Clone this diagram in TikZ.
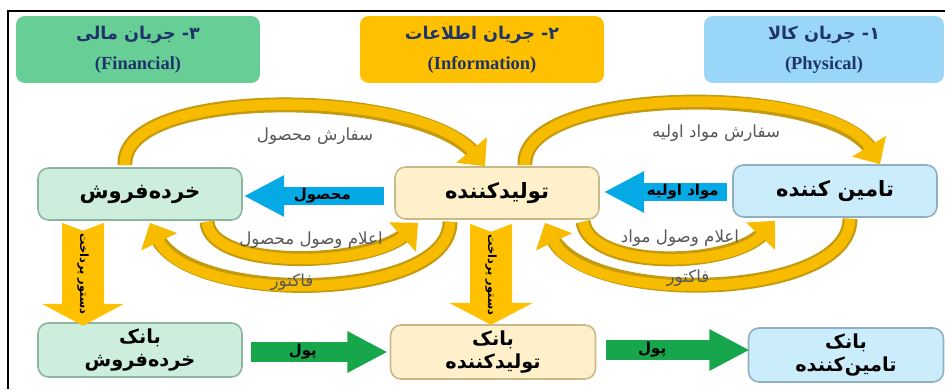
\documentclass[tikz,border=0pt]{standalone}
\usepackage{fontspec}
\usetikzlibrary{arrows.meta, calc, positioning}
\TeXXeTstate=1
\newfontfamily\fafont[Script=Arabic]{DejaVu Sans}
\newfontfamily\enfont{Liberation Serif}
\newcommand{\fatext}[1]{{\fafont\beginR #1\endR}}
\definecolor{finfill}{HTML}{67CF95}
\definecolor{infofill}{HTML}{FFC000}
\definecolor{phyfill}{HTML}{99D6F8}
\definecolor{headtext}{HTML}{1F3468}
\definecolor{retfill}{HTML}{CDEEDD}
\definecolor{retdraw}{HTML}{8CB4A0}
\definecolor{prodfill}{HTML}{FDF0CB}
\definecolor{proddraw}{HTML}{C8B98A}
\definecolor{supfill}{HTML}{CBEDFB}
\definecolor{supdraw}{HTML}{8FAFC0}
\definecolor{arrowblue}{HTML}{05A9E6}
\definecolor{arrowgreen}{HTML}{17A64C}
\definecolor{arrowyellow}{HTML}{FFC000}
\definecolor{bandgold}{HTML}{F7BC00}
\definecolor{bandedge}{HTML}{C49A10}
\definecolor{labelgray}{HTML}{585858}

\begin{document}
\begin{tikzpicture}[x=0.02cm, y=-0.02cm,
    headbox/.style={rounded corners=5pt, minimum width=4.88cm, minimum height=1.34cm, align=center, text=headtext, font=\bfseries},
    mainbox/.style={rounded corners=6pt, line width=0.9pt, minimum width=4.08cm, minimum height=1.04cm, align=center, font=\bfseries\fontsize{12}{15}\selectfont},
    bankbox/.style={mainbox, minimum height=1.08cm, font=\bfseries\fontsize{11}{13}\selectfont},
    flatarrow/.style={line width=10pt, -{Triangle[width=22pt,length=23pt]}},
    band/.style={draw=bandgold, line width=6pt, -{Triangle[width=22pt,length=12pt]},
        preaction={draw=bandedge, line width=8.5pt, arrows=-, shorten >=9pt}},
    curvelabel/.style={text=labelgray, font=\fontsize{9.5}{11}\selectfont},
    arrowlabel/.style={font=\bfseries\fontsize{8.5}{10}\selectfont},
    paylabel/.style={rotate=-90, font=\bfseries\fontsize{6.5}{7}\selectfont}]

    \useasboundingbox (0,0) rectangle (945,389);
    \draw[line width=1.2pt] (945,11) -- (8,11) -- (8,389);

    % header boxes
    \node[headbox, fill=finfill] (mali) at (138,49.5) {\fatext{۳- جریان مالی}\\[5pt]{\enfont\fontsize{10.5}{12}\selectfont (Financial)}};
    \node[headbox, fill=infofill] (ettelaat) at (482,49.5) {\fatext{۲- جریان اطلاعات}\\[5pt]{\enfont\fontsize{10.5}{12}\selectfont (Information)}};
    \node[headbox, fill=phyfill, minimum width=4.8cm] (kala) at (824,49.5) {\fatext{۱- جریان کالا}\\[5pt]{\enfont\fontsize{10.5}{12}\selectfont (Physical)}};

    % main boxes
    \node[mainbox, fill=retfill, draw=retdraw] (ret) at (140,194) {\fatext{خرده‌فروش}};
    \node[mainbox, fill=prodfill, draw=proddraw] (prod) at (497,193) {\fatext{تولیدکننده}};
    \node[mainbox, fill=supfill, draw=supdraw] (sup) at (835,191) {\fatext{تامین کننده}};

    % bank boxes
    \node[bankbox, fill=retfill, draw=retdraw] (bankret) at (140,350) {\fatext{بانک}\\\fatext{خرده‌فروش}};
    \node[bankbox, fill=prodfill, draw=proddraw, minimum width=4.1cm] (bankprod) at (493,352) {\fatext{بانک}\\\fatext{تولیدکننده}};
    \node[bankbox, fill=supfill, draw=supdraw, minimum width=3.9cm] (banksup) at (846,355) {\fatext{بانک}\\\fatext{تامین‌کننده}};

    % goods flow
    \draw[flatarrow, draw=arrowblue] ($(prod.west)+(-10,3)$) -- ($(ret.east)+(1,2)$)
        node[arrowlabel, pos=0.44] (mahsul) {\fatext{محصول}};
    \draw[flatarrow, draw=arrowblue] ($(sup.west)+(-5,1)$) -- ($(prod.east)+(4,-1)$)
        node[arrowlabel, pos=0.36] (mavad) {\fatext{مواد اولیه}};

    % money flow
    \draw[flatarrow, draw=arrowgreen, line width=11pt] ($(bankret.east)+(8,2)$) -- ($(bankprod.west)+(-2,0)$)
        node[arrowlabel, pos=0.38] (pul1) {\fatext{پول}};
    \draw[flatarrow, draw=arrowgreen, line width=11pt] ($(bankprod.east)+(10,-2)$) -- ($(banksup.west)+(2,-5)$)
        node[arrowlabel, pos=0.32] (pul2) {\fatext{پول}};

    % payment orders
    \coordinate (pay1) at ($(ret.south)+(-57,2)$);
    \coordinate (pay2) at ($(prod.south)+(-6,4)$);
    \fill[arrowyellow] ($(pay1)+(-21,0)$) -- ++(21,8) -- ++(21,-8) -- ++(0,81) -- ++(20,0) -- ++(-41,22) -- ++(-41,-22) -- ++(20,0) -- cycle;
    \fill[arrowyellow] ($(pay2)+(-21,0)$) -- ++(21,8) -- ++(21,-8) -- ++(0,79) -- ++(21,0) -- ++(-42,22) -- ++(-42,-22) -- ++(21,0) -- cycle;
    \node[paylabel] (dastur1) at ($(pay1)+(0,51)$) {\fatext{دستور پرداخت}};
    \node[paylabel] (dastur2) at ($(pay2)+(0,51)$) {\fatext{دستور پرداخت}};

    % information loops
    \draw[band] ($(ret.north)+(-15,-2)$) .. controls +(-5,-80) and +(-65,-78) .. ($(prod.north)+(-12,0)$);
    \draw[band] ($(prod.north)+(28,-1)$) .. controls +(-5,-80) and +(-50,-82) .. ($(sup.north)+(45,0)$);
    \draw[band] ($(ret.south)+(67,1)$) .. controls +(3,49) and +(-48,44) .. ($(prod.south)+(-79,3)$);
    \draw[band] ($(prod.south)+(-47,2)$) .. controls +(0,80) and +(40,83) .. ($(ret.south)+(10,2)$);
    \draw[band] ($(prod.south)+(86,2)$) .. controls +(7,48) and +(-45,48) .. ($(sup.south)+(-60,3)$);
    \draw[band] ($(sup.south)+(15,1)$) .. controls +(0,82) and +(40,84) .. ($(prod.south)+(48,3)$);

    \node[curvelabel] (sefareshmahsul) at (315,136) {\fatext{سفارش محصول}};
    \node[curvelabel] (sefareshmavad) at (716,133) {\fatext{سفارش مواد اولیه}};
    \node[curvelabel] (vosulmahsul) at (311,240) {\fatext{اعلام وصول محصول}};
    \node[curvelabel] (vosulmavad) at (680,238) {\fatext{اعلام وصول مواد}};
    \node[curvelabel] (factor1) at (292,282) {\fatext{فاکتور}};
    \node[curvelabel] (factor2) at (688,278) {\fatext{فاکتور}};
\end{tikzpicture}
\end{document}
